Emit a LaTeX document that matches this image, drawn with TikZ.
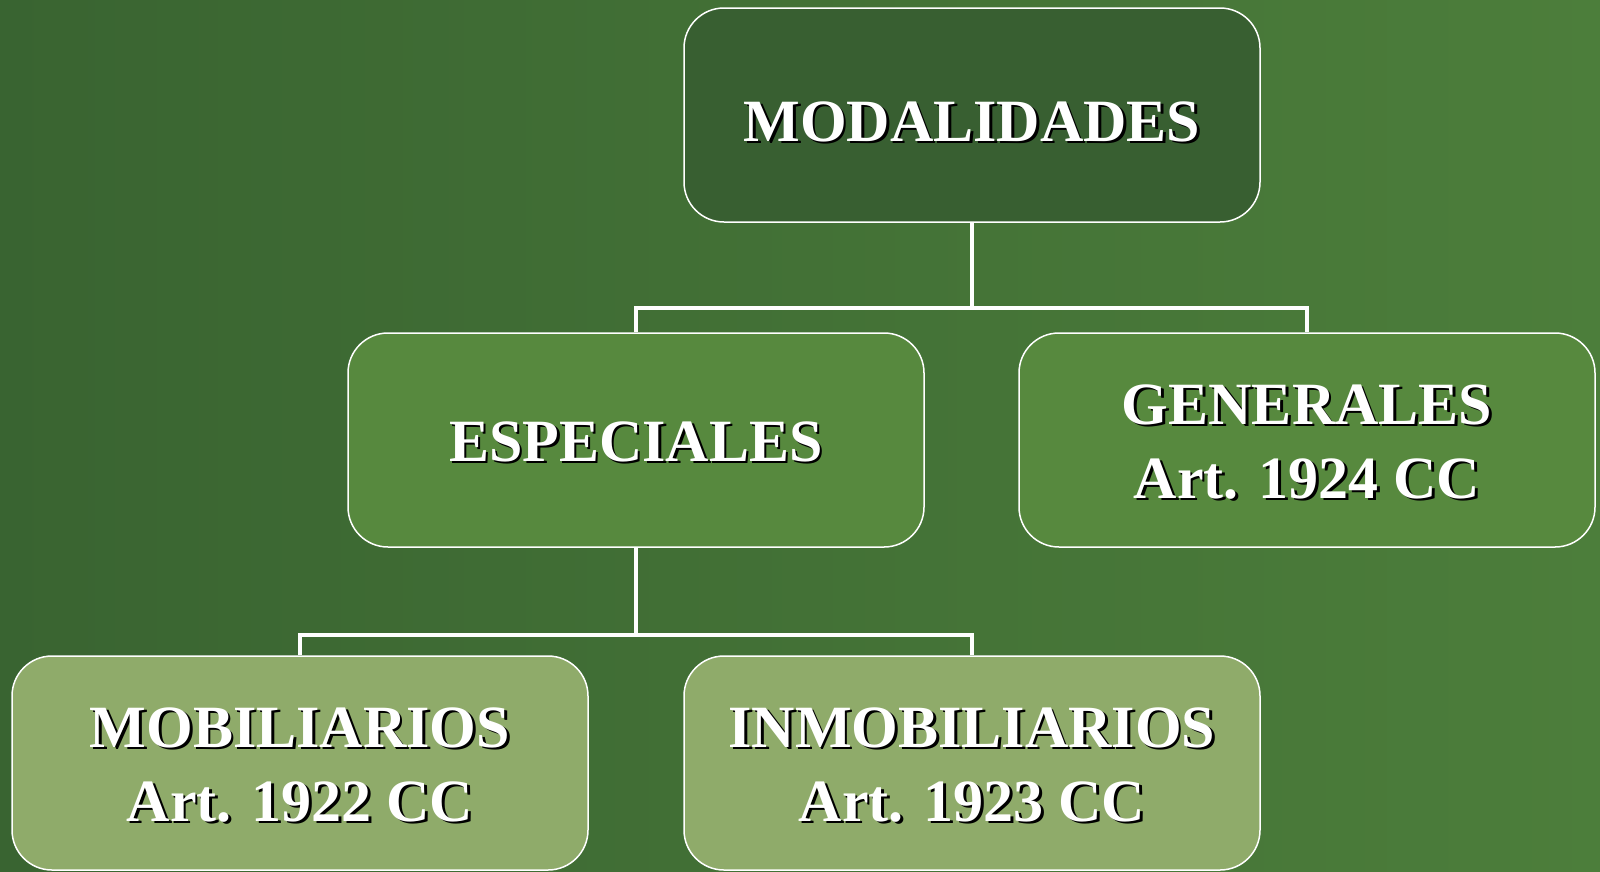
\documentclass[tikz,border=0pt]{standalone}
\usepackage{fontspec}
\setmainfont{Liberation Serif}
\pgfdeclarehorizontalshading{bgshade}{100bp}{rgb(0bp)=(0.235,0.42,0.21); rgb(25bp)=(0.224,0.392,0.192); rgb(100bp)=(0.337,0.545,0.25)}
\definecolor{topfill}{RGB}{56,95,49}
\definecolor{midfill}{RGB}{87,137,62}
\definecolor{lowfill}{RGB}{143,171,106}
\newcommand\shd[2][3pt]{\raisebox{-#1}[\height][\depth]{\rlap{\kern2.5pt\raisebox{-2.5pt}{\color{black}#2}}#2}}
\begin{document}
\begin{tikzpicture}[x=1pt,y=-1pt,
  box/.style={draw=white, line width=1.5pt, rounded corners=40pt, minimum width=576pt, minimum height=214pt, inner sep=0pt, text=white, align=center, font=\fontsize{60}{74}\selectfont\bfseries},
  conn/.style={draw=white, line width=4.5pt, line join=miter}]
\useasboundingbox (0,0) rectangle (1600,871);
\shade[shading=bgshade] (0,0) rectangle (1600,871);
\node[box, fill=topfill] (top) at (972,115) {\shd[8pt]{MODALIDADES}};
\node[box, fill=midfill] (esp) at (636,440) {\shd{ESPECIALES}};
\node[box, fill=midfill] (gen) at (1307,440) {\shd{GENERALES}\\\shd{Art. 1924 CC}};
\node[box, fill=lowfill] (mob) at (300,763) {\shd{MOBILIARIOS}\\\shd{Art. 1922 CC}};
\node[box, fill=lowfill] (inm) at (972,763) {\shd{INMOBILIARIOS}\\\shd{Art. 1923 CC}};
\coordinate (j1) at (972,308);
\coordinate (j2) at (636,635);
\draw[conn] (top.south) -- (j1);
\draw[conn] (esp.north) |- (j1) -| (gen.north);
\draw[conn] (esp.south) -- (j2);
\draw[conn] (mob.north) |- (j2) -| (inm.north);
\end{tikzpicture}
\end{document}
